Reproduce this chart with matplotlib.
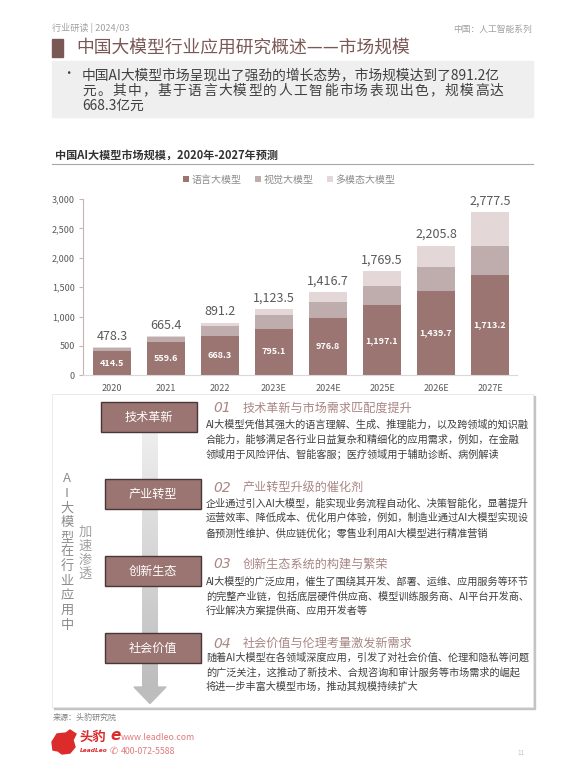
import numpy as np
import matplotlib
matplotlib.use('Agg')
import matplotlib.pyplot as plt
from matplotlib.patches import Rectangle, Polygon

plt.rcParams['font.family'] = ['Noto Sans CJK SC', 'DejaVu Sans']

# chart data
years = ['2020', '2021', '2022', '2023E', '2024E', '2025E', '2026E', '2027E']
language = [414.5, 559.6, 668.3, 795.1, 976.8, 1197.1, 1439.7, 1713.2]
vision = [45, 87, 171, 231, 276, 328, 408, 487]
multimodal = [19, 19, 52, 97, 164, 244, 358, 577]
totals = [478.3, 665.4, 891.2, 1123.5, 1416.7, 1769.5, 2205.8, 2777.5]
series_names = ['语言大模型', '视觉大模型', '多模态大模型']
yticks = [0, 500, 1000, 1500, 2000, 2500, 3000]

# page text
page_title = '中国大模型行业应用研究概述——市场规模'
summary_lines = ['中国AI大模型市场呈现出了强劲的增长态势，市场规模达到了891.2亿',
                 '元。其中，基于语言大模型的人工智能市场表现出色，规模高达',
                 '668.3亿元']
chart_title = '中国AI大模型市场规模，2020年-2027年预测'
stages = ['技术革新', '产业转型', '创新生态', '社会价值']
stage_nums = ['01', '02', '03', '04']
stage_heads = ['技术革新与市场需求匹配度提升', '产业转型升级的催化剂',
               '创新生态系统的构建与繁荣', '社会价值与伦理考量激发新需求']
stage_body = [
    ['AI大模型凭借其强大的语言理解、生成、推理能力，以及跨领域的知识融',
     '合能力，能够满足各行业日益复杂和精细化的应用需求，例如，在金融',
     '领域用于风险评估、智能客服；医疗领域用于辅助诊断、病例解读'],
    ['企业通过引入AI大模型，能实现业务流程自动化、决策智能化，显著提升',
     '运营效率、降低成本、优化用户体验，例如，制造业通过AI大模型实现设',
     '备预测性维护、供应链优化；零售业利用AI大模型进行精准营销'],
    ['AI大模型的广泛应用，催生了围绕其开发、部署、运维、应用服务等环节',
     '的完整产业链，包括底层硬件供应商、模型训练服务商、AI平台开发商、',
     '行业解决方案提供商、应用开发者等'],
    ['随着AI大模型在各领域深度应用，引发了对社会价值、伦理和隐私等问题',
     '的广泛关注，这推动了新技术、合规咨询和审计服务等市场需求的崛起',
     '将进一步丰富大模型市场，推动其规模持续扩大'],
]
side_text = 'AI大模型在行业应用中'
side_text2 = '加速渗透'

c_lang = '#9b7572'
c_vis = '#bfadad'
c_multi = '#e3d7d7'
c_brown = '#7a5855'
c_head = '#a88684'


def main():
    fig = plt.figure(figsize=(5.85, 7.8), dpi=100)
    fig.patch.set_facecolor('white')

    # page layer in pixel coords
    bg = fig.add_axes([0, 0, 1, 1])
    bg.axis('off')

    bg.text(52, 28, '行业研读 | 2024/03', fontsize=6.6, color='#a0a0a0', va='center')
    bg.text(532, 29, '中国：人工智能系列', fontsize=6.3, color='#a0a0a0', va='center', ha='right')
    bg.add_patch(Rectangle((52, 39), 11, 18, color=c_brown))
    bg.text(76, 48, page_title, fontsize=12.8, color=c_brown, va='center')

    bg.add_patch(Rectangle((52, 61), 481, 56, color='#efefef'))
    bg.text(62, 74, '•', fontsize=9, color='#404040', va='center')
    bg.text(82, 75, summary_lines[0], fontsize=9.9, color='#404040', va='center')
    # second line is justified in the original
    step = (505 - 82) / len(summary_lines[1])
    for i, ch in enumerate(summary_lines[1]):
        bg.text(82 + i * step, 90.5, ch, fontsize=9.9, color='#404040', va='center')
    bg.text(82, 106, summary_lines[2], fontsize=9.9, color='#404040', va='center')

    bg.text(55, 155, chart_title, fontsize=8, fontweight='bold', color='#333333', va='center')
    bg.plot([52, 533], [163.5, 163.5], color='#a6a6a6', lw=0.8)

    # lower panel with shadow
    bg.add_patch(Rectangle((54, 396), 481, 313, color='#c4c4c4'))
    bg.add_patch(Rectangle((52, 394), 481, 313, facecolor='white', edgecolor='#e6e6e6', lw=0.6))

    # arrow shaft with gradient
    grad = np.linspace(0.93, 0.74, 100).reshape(-1, 1)
    bg.imshow(grad, extent=[142, 158, 688, 432], cmap='gray', vmin=0, vmax=1,
              aspect='auto', zorder=2)
    bg.add_patch(Polygon([(134, 687), (166, 687), (150, 703.5)], color='#bdbdbd', zorder=2))

    box_y = [402, 479, 556, 633]
    box_x = [101, 105, 105, 105]
    head_y = [408.5, 487.5, 564.5, 643.5]
    body_y = [424.7, 503.3, 581.7, 657.7]
    for k in range(4):
        bg.add_patch(Rectangle((box_x[k], box_y[k]), 96, 30, facecolor='#9b7572',
                               edgecolor='#4a3636', lw=1, zorder=3))
        bg.text(box_x[k] + 48, box_y[k] + 15, stages[k], fontsize=8.7, color='white',
                ha='center', va='center', zorder=4)
        bg.text(213, head_y[k], stage_nums[k], fontsize=10, color=c_head, va='center',
                style='italic', family='DejaVu Sans')
        bg.text(243, head_y[k], stage_heads[k], fontsize=8.7, color=c_head, va='center')
        for j, line in enumerate(stage_body[k]):
            bg.text(206, body_y[k] + j * 14.6, line, fontsize=7.3, color='#404040', va='center')

    for i, ch in enumerate(side_text):
        bg.text(67, 479 + i * 14.6, ch, fontsize=9.5, color='#8c8c8c', ha='center', va='center')
    for i, ch in enumerate(side_text2):
        bg.text(85, 532 + i * 14.1, ch, fontsize=9.5, color='#a0a0a0', ha='center', va='center')

    # footer
    bg.text(53, 717, '来源：头豹研究院', fontsize=5.8, color='#808080', va='center')
    bg.add_patch(Polygon([(52, 742), (57, 734), (66, 733), (70, 730), (76, 734), (73, 740),
                          (75, 747), (70, 753), (62, 754), (58, 751), (53, 750)],
                         color='#dc2b2b'))
    bg.text(80, 737, '头豹', fontsize=9.6, fontweight='bold', color='#dc2b2b', va='center')
    bg.text(80, 751, 'LeadLeo', fontsize=4.2, fontweight='bold', style='italic',
            color='#dc2b2b', va='center', family='DejaVu Sans')
    bg.text(110, 736, 'e', fontsize=11, fontweight='bold', style='italic', color='#dc2b2b',
            va='center', family='DejaVu Sans')
    bg.text(121, 737, 'www.leadleo.com', fontsize=6.3, color='#e07a7a', va='center')
    bg.text(110, 751, '✆', fontsize=7, color='#e07a7a', va='center', family='DejaVu Sans')
    bg.text(121, 751.5, '400-072-5588', fontsize=6.3, color='#e07a7a', va='center')
    bg.text(521, 753, '11', fontsize=4.5, color='#c0c0c0', va='center', ha='center')

    bg.set_xlim(0, 585)
    bg.set_ylim(780, 0)

    # bar chart
    ax = fig.add_axes([83.3 / 585, 1 - 375.3 / 780, (517 - 83.3) / 585, (375.3 - 199.0) / 780])
    x = np.arange(len(years))
    lang = np.array(language)
    vis = np.array(vision)
    mul = np.array(multimodal)
    w = 0.70
    b1 = ax.bar(x, lang, w, color=c_lang, label=series_names[0])
    b2 = ax.bar(x, vis, w, bottom=lang, color=c_vis, label=series_names[1])
    b3 = ax.bar(x, mul, w, bottom=lang + vis, color=c_multi, label=series_names[2])

    for i in range(len(years)):
        ax.text(x[i], lang[i] / 2, f'{language[i]:,.1f}', ha='center', va='center',
                fontsize=6.5, fontweight='bold', color='white')
        ax.annotate(f'{totals[i]:,.1f}', (x[i], lang[i] + vis[i] + mul[i]), xytext=(0, 8),
                    textcoords='offset points', ha='center', va='center',
                    fontsize=9, color='#595959')

    ax.set_xlim(-0.53, 7.5)
    ax.set_ylim(0, 3000)
    ax.set_yticks(yticks)
    ax.set_yticklabels([f'{v:,}' for v in yticks])
    ax.set_xticks(x)
    ax.set_xticklabels(years)
    ax.tick_params(axis='y', labelsize=6.5, colors='#595959', length=3, color='#c8b4b4', pad=3)
    ax.tick_params(axis='x', labelsize=6.5, colors='#595959', length=0, pad=6)
    ax.spines['top'].set_visible(False)
    ax.spines['right'].set_visible(False)
    ax.spines['left'].set_color('#c8b4b4')
    ax.spines['bottom'].set_color('#d9d9d9')
    ax.set_facecolor('none')

    fig.legend(handles=[b1, b2, b3], loc='center', bbox_to_anchor=(289 / 585, 1 - 179.5 / 780),
               ncol=3, frameon=False, fontsize=7.2, handlelength=0.6, handleheight=0.6,
               handletextpad=0.3, columnspacing=1.3, labelcolor='#8c8c8c')

    plt.savefig('out.png', dpi=100)


if __name__ == '__main__':
    main()
